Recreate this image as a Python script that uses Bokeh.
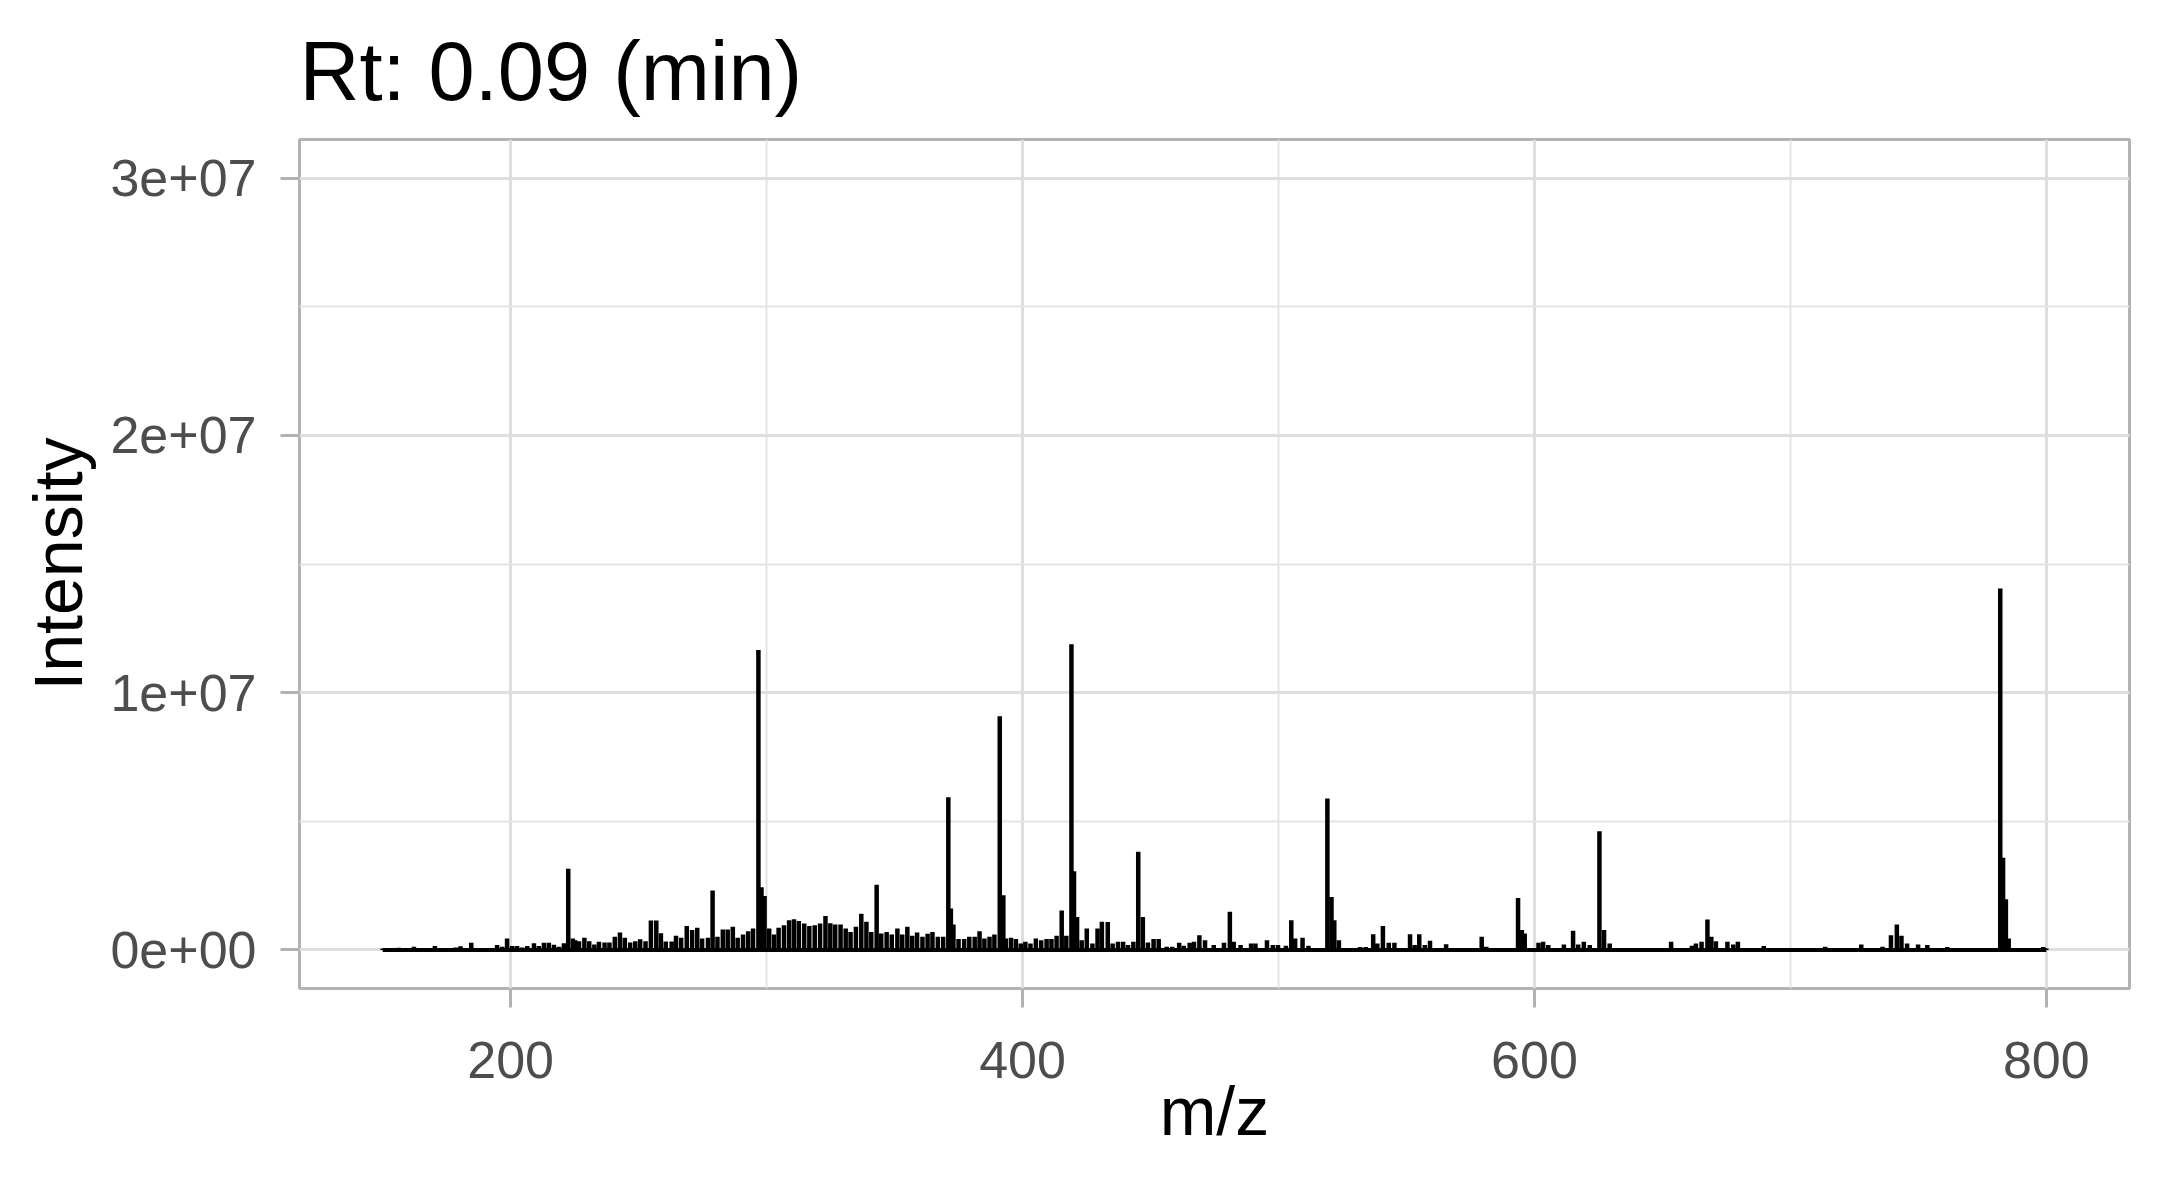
from bokeh.plotting import figure
from bokeh.models import Range1d, FixedTicker, ColumnDataSource
from bokeh.embed import file_html
from bokeh.resources import INLINE

title_text = "Rt: 0.09 (min)"
x_label = "m/z"
y_label = "Intensity"
x_ticks = [200, 400, 600, 800]
x_minor_ticks = [300, 500, 700]
y_ticks = [0, 1e7, 2e7, 3e7]
y_minor_ticks = [5e6, 1.5e7, 2.5e7]
y_tick_labels = ["0e+00", "1e+07", "2e+07", "3e+07"]
y_limits = [0, 3e7]

mz = [
    150.0, 156.3, 162.2, 164.1, 170.4, 176.5, 178.5, 180.4, 182.4, 184.6,
    194.7, 196.7, 198.6, 200.6, 202.5, 204.5, 206.5, 209.1, 211.0, 213.0,
    214.9, 216.9, 218.8, 220.8, 222.5, 224.3, 225.2, 226.7, 228.8, 230.7,
    232.7, 234.5, 236.7, 238.6, 240.7, 242.7, 244.6, 246.7, 248.7, 250.6,
    252.7, 254.8, 256.9, 258.7, 260.6, 262.9, 264.6, 266.6, 268.8, 270.9,
    272.9, 274.8, 277.1, 278.9, 280.8, 282.9, 284.8, 286.8, 288.7, 290.8,
    292.8, 294.7, 296.8, 298.0, 299.2, 301.0, 302.9, 304.7, 306.8, 308.8,
    310.7, 312.6, 314.7, 316.7, 318.8, 320.9, 323.0, 324.9, 326.8, 328.9,
    330.9, 332.8, 334.9, 337.0, 339.0, 340.9, 343.0, 344.8, 346.9, 348.9,
    351.1, 353.0, 355.0, 356.9, 358.8, 360.9, 362.9, 364.8, 366.9, 369.0,
    371.0, 372.0, 373.0, 375.0, 377.2, 379.2, 381.3, 383.2, 385.1, 387.1,
    389.0, 391.1, 392.5, 393.5, 395.5, 397.4, 399.3, 401.1, 403.1, 405.2,
    407.3, 409.4, 411.3, 413.3, 415.3, 417.1, 419.1, 420.1, 421.3, 423.1,
    425.1, 427.3, 429.3, 431.0, 433.3, 435.2, 437.3, 439.3, 441.2, 443.3,
    445.2, 447.0, 449.0, 451.2, 453.2, 456.3, 458.5, 461.2, 463.0, 465.3,
    467.0, 469.1, 471.3, 474.7, 478.7, 481.0, 482.5, 485.2, 489.3, 491.0,
    495.5, 497.8, 499.8, 502.9, 505.0, 506.5, 509.4, 511.7, 519.1, 520.7,
    521.8, 523.6, 531.9, 534.1, 537.0, 538.6, 540.8, 543.1, 545.3, 551.4,
    553.2, 555.0, 557.2, 559.2, 565.5, 579.4, 581.2, 593.6, 595.1, 596.2,
    601.6, 603.4, 605.4, 611.5, 615.1, 617.1, 619.3, 621.6, 625.4, 627.2,
    629.4, 653.4, 661.5, 663.1, 665.3, 667.6, 669.1, 670.9, 675.4, 677.7,
    679.5, 689.6, 713.6, 727.7, 736.0, 739.3, 741.6, 743.4, 745.6, 749.9,
    753.5, 761.3, 782.0, 783.1, 784.2, 785.3, 798.8, 800.0,
]

intensity_e6 = [
    0.05, 0.08, 0.12, 0.07, 0.15, 0.07, 0.09, 0.14, 0.07, 0.28,
    0.19, 0.12, 0.44, 0.15, 0.15, 0.09, 0.15, 0.26, 0.15, 0.28,
    0.28, 0.20, 0.12, 0.26, 3.15, 0.44, 0.38, 0.34, 0.47, 0.34,
    0.21, 0.32, 0.29, 0.29, 0.51, 0.68, 0.47, 0.29, 0.34, 0.41,
    0.34, 1.14, 1.14, 0.65, 0.33, 0.33, 0.55, 0.47, 0.93, 0.77,
    0.86, 0.44, 0.47, 2.31, 0.51, 0.79, 0.79, 0.90, 0.47, 0.60,
    0.73, 0.83, 11.66, 2.44, 2.10, 0.83, 0.60, 0.86, 0.96, 1.15,
    1.19, 1.12, 1.03, 0.93, 0.96, 1.03, 1.32, 1.04, 0.99, 0.99,
    0.83, 0.70, 0.90, 1.41, 1.09, 0.70, 2.53, 0.64, 0.70, 0.60,
    0.83, 0.60, 0.90, 0.55, 0.68, 0.51, 0.63, 0.70, 0.51, 0.51,
    5.93, 1.61, 0.99, 0.42, 0.42, 0.51, 0.51, 0.73, 0.44, 0.51,
    0.60, 9.08, 2.12, 0.44, 0.47, 0.42, 0.25, 0.32, 0.25, 0.44,
    0.38, 0.42, 0.42, 0.55, 1.53, 0.55, 11.88, 3.06, 1.28, 0.38,
    0.83, 0.25, 0.83, 1.09, 1.08, 0.25, 0.32, 0.32, 0.19, 0.32,
    3.82, 1.28, 0.29, 0.42, 0.42, 0.12, 0.12, 0.28, 0.16, 0.28,
    0.32, 0.57, 0.38, 0.19, 0.28, 1.48, 0.32, 0.19, 0.25, 0.25,
    0.38, 0.19, 0.19, 0.16, 1.15, 0.44, 0.47, 0.16, 5.89, 2.06,
    1.15, 0.38, 0.11, 0.11, 0.61, 0.25, 0.93, 0.28, 0.28, 0.61,
    0.19, 0.61, 0.19, 0.36, 0.22, 0.51, 0.12, 2.02, 0.77, 0.64,
    0.28, 0.32, 0.19, 0.21, 0.74, 0.21, 0.32, 0.19, 4.61, 0.77,
    0.25, 0.32, 0.16, 0.25, 0.32, 1.18, 0.51, 0.34, 0.32, 0.21,
    0.32, 0.15, 0.12, 0.21, 0.12, 0.57, 0.99, 0.55, 0.25, 0.21,
    0.19, 0.11, 14.05, 3.58, 1.97, 0.44, 0.11, 0.05,
]

intensity = [v * 1e6 for v in intensity_e6]
src = ColumnDataSource(data=dict(mz=mz, intensity=intensity, base=[0.0] * len(mz)))

x_lo, x_hi = min(mz), max(mz)
x_pad = 0.05 * (x_hi - x_lo)
y_pad = 0.05 * (y_limits[1] - y_limits[0])

FONT = "Liberation Sans"

p = figure(
    width=2160, height=1176,
    output_backend="svg", toolbar_location=None,
    x_range=Range1d(x_lo - x_pad, x_hi + x_pad),
    y_range=Range1d(y_limits[0] - y_pad, y_limits[1] + y_pad),
    min_border_left=299, min_border_top=139, min_border_right=31, min_border_bottom=188,
    title=title_text,
)

p.background_fill_color = "white"
p.border_fill_color = "white"
p.outline_line_color = "#B3B3B3"
p.outline_line_width = 3

p.title.text_font = FONT
p.title.text_font_size = "83px"
p.title.text_font_style = "normal"
p.title.text_color = "black"
p.title.align = "left"
p.title.standoff = 43

p.xaxis.ticker = FixedTicker(ticks=x_ticks, minor_ticks=x_minor_ticks)
p.yaxis.ticker = FixedTicker(ticks=y_ticks, minor_ticks=y_minor_ticks)
p.yaxis.major_label_overrides = {float(t): lab for t, lab in zip(y_ticks, y_tick_labels)}

for ax in (p.xaxis[0], p.yaxis[0]):
    ax.axis_line_color = None
    ax.major_tick_line_color = "#B3B3B3"
    ax.major_tick_line_width = 3
    ax.major_tick_out = 19
    ax.major_tick_in = 0
    ax.minor_tick_line_color = None
    ax.major_label_text_font = FONT
    ax.major_label_text_font_size = "52px"
    ax.major_label_text_color = "#4D4D4D"
    ax.axis_label_text_font = FONT
    ax.axis_label_text_font_size = "68px"
    ax.axis_label_text_font_style = "normal"
    ax.axis_label_text_color = "black"

p.xaxis.axis_label = x_label
p.yaxis.axis_label = y_label
p.xaxis.major_label_standoff = 34
p.yaxis.major_label_standoff = 24
p.xaxis.axis_label_standoff = -8
p.yaxis.axis_label_standoff = 11

for g in (p.xgrid[0], p.ygrid[0]):
    g.grid_line_color = "#DEDEDE"
    g.grid_line_width = 3
    g.minor_grid_line_color = "#E3E3E3"
    g.minor_grid_line_width = 2

p.segment(x0="mz", y0="base", x1="mz", y1="intensity", source=src,
          line_color="black", line_width=4.5)
p.line(x=[x_lo, x_hi], y=[0, 0], line_color="black", line_width=4)

open("out.html", "w").write(file_html(p, INLINE))
